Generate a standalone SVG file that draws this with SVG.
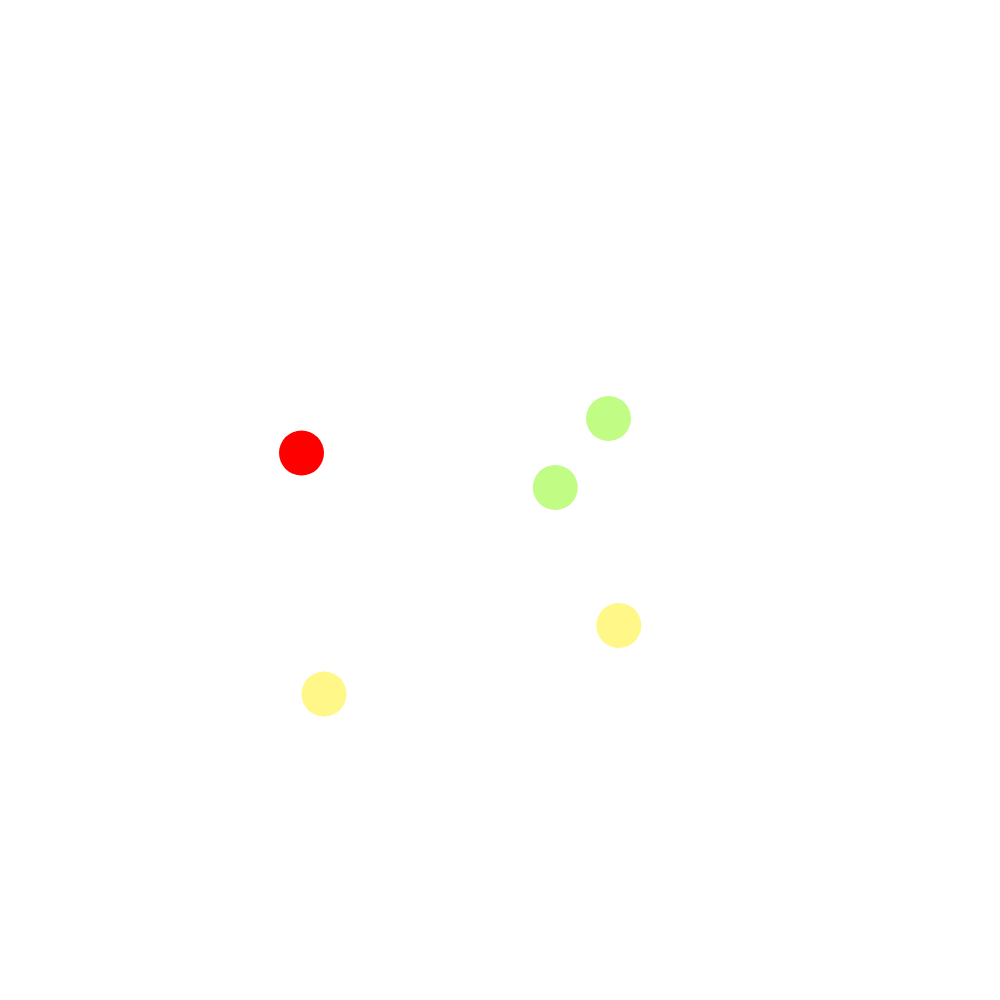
<svg xmlns="http://www.w3.org/2000/svg" width="1000" height="1000" viewBox="0 0 1000 1000">
<style>
.red{fill:#ff0000}
.green{fill:#c1fc85}
.yellow{fill:#fff787}
</style>
<rect width="1000" height="1000" fill="#ffffff"/>
<g id="n1"><circle class="red" cx="301.5" cy="453" r="22.5"/></g>
<g id="n2"><circle class="green" cx="608.5" cy="418.5" r="22.5"/></g>
<g id="n3"><circle class="green" cx="555.3" cy="487.5" r="22.5"/></g>
<g id="n4"><circle class="yellow" cx="618.8" cy="625.5" r="22.5"/></g>
<g id="n5"><circle class="yellow" cx="324" cy="694" r="22.5"/></g>
<g id="connectors"></g>
</svg>
